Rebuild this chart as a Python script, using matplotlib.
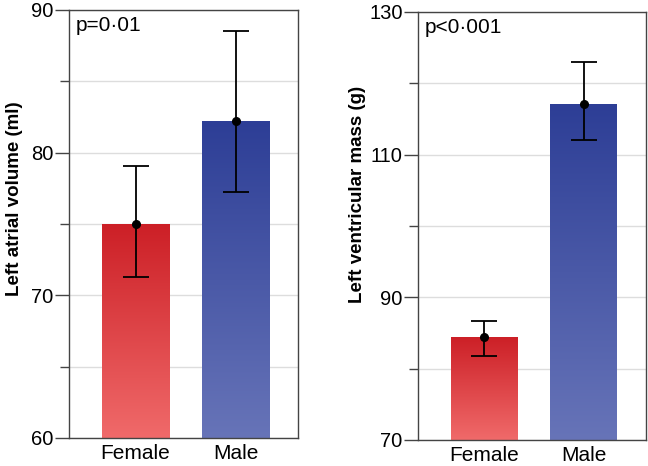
import matplotlib
matplotlib.use('Agg')
import matplotlib.pyplot as plt
import numpy as np
from matplotlib.colors import LinearSegmentedColormap

plt.rcParams['font.family'] = ['Liberation Sans', 'DejaVu Sans']

groups = ['Female', 'Male']

# left atrial volume (ml)
la_mean = [75.0, 82.2]
la_low = [71.3, 77.25]
la_high = [79.05, 88.55]

# left ventricular mass (g)
lv_mean = [84.5, 117.1]
lv_low = [81.8, 112.1]
lv_high = [86.7, 123.0]

red_cmap = LinearSegmentedColormap.from_list('r', ['#f06a6a', '#cc1f26'])
blue_cmap = LinearSegmentedColormap.from_list('b', ['#6774b8', '#2d3e96'])


def panel(ax, mean, low, high, ylim, major, minor, ylabel, ptext, labpos):
    x = np.arange(len(groups))
    bars = ax.bar(x, mean, width=0.67, bottom=0, color='none', zorder=2)
    grad = np.linspace(0, 1, 256).reshape(-1, 1)
    for b, cm in zip(bars, [red_cmap, blue_cmap]):
        x0 = b.get_x()
        x1 = x0 + b.get_width()
        top = b.get_height()
        im = ax.imshow(grad, cmap=cm, origin='lower', aspect='auto',
                       extent=(x0, x1, ylim[0], top), zorder=2)
        im.set_clip_path(b)
    yerr = [np.array(mean) - np.array(low), np.array(high) - np.array(mean)]
    ax.errorbar(x, mean, yerr=yerr, fmt='o', color='black', ms=5.5,
                elinewidth=1.3, capsize=9.5, capthick=1.3, zorder=3)
    ax.set_xlim(-0.665, 1.625)
    ax.set_ylim(*ylim)
    ax.set_yticks(major)
    ax.set_yticks(minor, minor=True)
    ax.set_xticks(x)
    ax.set_xticklabels(groups, fontsize=15)
    ax.tick_params(axis='y', which='major', length=10, width=1, labelsize=14.5,
                   pad=1, color='#444444')
    ax.tick_params(axis='y', which='minor', length=6.5, width=1, color='#444444')
    ax.tick_params(axis='x', length=0, pad=4)
    ax.grid(axis='y', which='both', color='#dddddd', lw=1, zorder=0)
    ax.set_axisbelow(True)
    for s in ax.spines.values():
        s.set_color('#444444')
        s.set_linewidth(1.0)
    ax.set_ylabel(ylabel, fontsize=13.5, fontweight='bold')
    ax.yaxis.set_label_coords(*labpos)
    ax.text(0.03, 0.985, ptext, transform=ax.transAxes, fontsize=15,
            va='top', ha='left')


fig = plt.figure(figsize=(6.48, 4.66), dpi=100)
ax1 = fig.add_axes([0.1065, 0.0601, 0.3534, 0.9185])
ax2 = fig.add_axes([0.645, 0.0558, 0.3519, 0.9185])

panel(ax1, la_mean, la_low, la_high, (60, 90), [60, 70, 80, 90], [65, 75, 85],
      'Left atrial volume (ml)', 'p=0\u00b701', (-0.2, 0.558))
panel(ax2, lv_mean, lv_low, lv_high, (70, 130), [70, 90, 110, 130], [80, 100, 120],
      'Left ventricular mass (g)', 'p<0\u00b7001', (-0.23, 0.573))

fig.savefig('out.png', dpi=100)
